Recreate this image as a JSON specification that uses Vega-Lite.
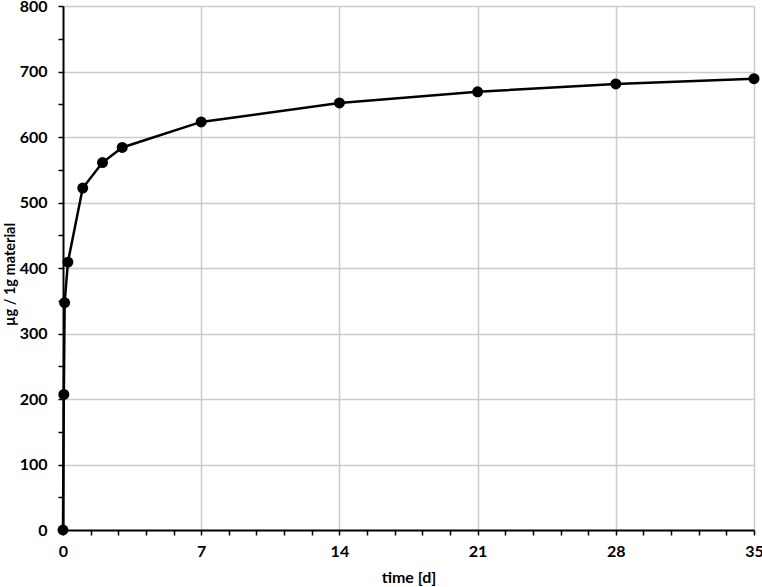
{
  "$schema": "https://vega.github.io/schema/vega-lite/v6.json",
  "width": 691,
  "height": 524,
  "autosize": {"type": "none"},
  "padding": {"left": 63, "top": 6, "right": 8, "bottom": 57},
  "background": "white",
  "config": {
    "view": {"stroke": null},
    "font": "Lato",
    "axis": {
      "labelFont": "Lato",
      "labelFontWeight": "bold",
      "labelFontSize": 16,
      "labelColor": "#000000",
      "titleFont": "Lato",
      "titleFontWeight": "bold",
      "titleColor": "#000000",
      "domainColor": "#000000",
      "domainWidth": 2,
      "tickColor": "#000000",
      "tickWidth": 1.5,
      "tickSize": 5,
      "gridColor": "#cccccc",
      "gridWidth": 1.5
    }
  },
  "data": {
    "values": [
      {"time": 0, "amount": 0},
      {"time": 0.042, "amount": 207},
      {"time": 0.083, "amount": 347},
      {"time": 0.25, "amount": 409},
      {"time": 1, "amount": 522},
      {"time": 2, "amount": 561},
      {"time": 3, "amount": 584},
      {"time": 7, "amount": 623},
      {"time": 14, "amount": 652},
      {"time": 21, "amount": 669},
      {"time": 28, "amount": 681},
      {"time": 35, "amount": 689}
    ]
  },
  "encoding": {
    "x": {
      "field": "time",
      "type": "quantitative",
      "scale": {"domain": [0, 35], "nice": false, "zero": true},
      "axis": {
        "title": "time [d]",
        "titleFontSize": 16,
        "values": [0, 1.4, 2.8, 4.2, 5.6, 7, 8.4, 9.8, 11.2, 12.6, 14, 15.4, 16.8, 18.2, 19.6, 21, 22.4, 23.8, 25.2, 26.6, 28, 29.4, 30.8, 32.2, 33.6, 35],
        "labelExpr": "datum.value % 7 === 0 ? datum.label : ''",
        "labelPadding": 8,
        "titleX": 345.5,
        "titleY": 47,
        "titleAlign": "center",
        "titleBaseline": "middle",
        "grid": true,
        "gridOpacity": {"condition": {"test": "datum.value % 7 === 0 && datum.value > 0", "value": 1}, "value": 0},
        "labelFlush": false,
        "labelOverlap": false
      }
    },
    "y": {
      "field": "amount",
      "type": "quantitative",
      "scale": {"domain": [0, 800], "nice": false},
      "axis": {
        "title": "µg / 1g material",
        "titleFontSize": 14.5,
        "values": [0, 50, 100, 150, 200, 250, 300, 350, 400, 450, 500, 550, 600, 650, 700, 750, 800],
        "labelExpr": "datum.value % 100 === 0 ? datum.label : ''",
        "labelPadding": 11,
        "titleX": -53,
        "titleY": 268,
        "titleAngle": -90,
        "titleAlign": "center",
        "titleBaseline": "middle",
        "grid": true,
        "gridOpacity": {"condition": {"test": "datum.value % 100 === 0 && datum.value > 0", "value": 1}, "value": 0},
        "labelFlush": false,
        "labelOverlap": false
      }
    }
  },
  "layer": [
    {"mark": {"type": "line", "color": "#000000", "strokeWidth": 2.5}},
    {"mark": {"type": "point", "filled": true, "color": "#000000", "opacity": 1, "size": 120}}
  ]
}
